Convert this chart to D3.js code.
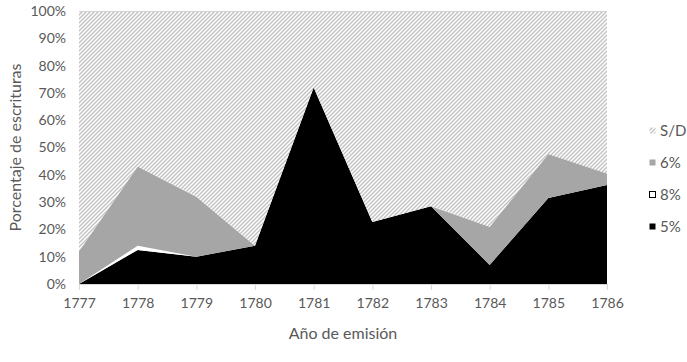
<!DOCTYPE html>
<html>
<head>
<meta charset="utf-8">
<script src="https://cdn.jsdelivr.net/npm/d3@7"></script>
<style>
  body { margin: 0; background: #fff; }
  text { font-family: Lato, "Open Sans", sans-serif; fill: #595959; }
</style>
</head>
<body>
<div id="chart"></div>
<script>
// data (percent of deeds per year)
var years = [1777, 1778, 1779, 1780, 1781, 1782, 1783, 1784, 1785, 1786];
var s5 = [0, 12.5, 10, 14, 72, 22.7, 28.5, 7, 31.5, 36.3];
var s8 = [0, 1.5, 0, 0, 0, 0, 0, 0, 0, 0];
var s6 = [12, 29, 22, 0, 0, 0, 0, 14, 16.1, 4.2];
var yTicks = [0, 10, 20, 30, 40, 50, 60, 70, 80, 90, 100];
var keys = ["5%", "8%", "6%", "S/D"];
var legendOrder = ["S/D", "6%", "8%", "5%"];

var rows = years.map(function(y, i) {
    return {year: y, "5%": s5[i], "8%": s8[i], "6%": s6[i],
        "S/D": 100 - s5[i] - s8[i] - s6[i]};
});

var width = 687, height = 362;
var margin = {top: 11, right: 80, bottom: 78, left: 79};
var w = width - margin.left - margin.right;
var h = height - margin.top - margin.bottom;

var svg = d3.select("#chart").append("svg")
    .attr("width", width)
    .attr("height", height);

// hatch for S/D
var defs = svg.append("defs");
defs.append("pattern")
    .attr("id", "hatch")
    .attr("patternUnits", "userSpaceOnUse")
    .attr("width", 4)
    .attr("height", 4)
    .call(function(p) {
        p.append("rect").attr("width", 4).attr("height", 4).attr("fill", "#fff");
        p.append("path")
            .attr("d", "M-1,1 l2,-2 M0,4 l4,-4 M3,5 l2,-2")
            .attr("stroke", "#c2c2c2")
            .attr("stroke-width", 1.4);
    });

var fills = {"5%": "#000", "8%": "#fff", "6%": "#a6a6a6", "S/D": "url(#hatch)"};

var g = svg.append("g")
    .attr("transform", "translate(" + margin.left + "," + margin.top + ")");

var x = d3.scaleLinear().domain([1777, 1786]).range([0, w]);
var y = d3.scaleLinear().domain([0, 100]).range([h, 0]);

var stack = d3.stack().keys(keys);
var series = stack(rows);

var area = d3.area()
    .x(function(d) { return x(d.data.year); })
    .y0(function(d) { return y(d[0]); })
    .y1(function(d) { return y(d[1]); })
    .curve(d3.curveLinear);

g.selectAll(".layer")
    .data(series)
    .enter().append("path")
    .attr("class", "layer")
    .attr("d", area)
    .attr("fill", function(d) { return fills[d.key]; });

g.append("line")
    .attr("x1", 0).attr("x2", w)
    .attr("y1", y(100) + 0.5).attr("y2", y(100) + 0.5)
    .attr("stroke", "#d4d4d4");

// x axis
var xAxis = d3.axisBottom(x)
    .tickValues(years)
    .tickFormat(d3.format("d"))
    .tickSize(6)
    .tickPadding(8);

var xg = g.append("g")
    .attr("transform", "translate(0," + h + ")")
    .call(xAxis);
xg.select(".domain").attr("stroke", "#d9d9d9");
xg.selectAll(".tick line").attr("stroke", "#d9d9d9");
xg.selectAll(".tick text").attr("font-size", 14).attr("fill", "#595959");

// y axis
var yAxis = d3.axisLeft(y)
    .tickValues(yTicks)
    .tickFormat(function(d) { return d + "%"; })
    .tickSize(0)
    .tickPadding(13);

var yg = g.append("g").call(yAxis);
yg.select(".domain").remove();
yg.selectAll(".tick text").attr("font-size", 14).attr("fill", "#595959");

// axis titles
svg.append("text")
    .attr("transform", "translate(21," + (margin.top + h / 2) + ") rotate(-90)")
    .attr("text-anchor", "middle")
    .attr("font-size", 16)
    .text("Porcentaje de escrituras");

svg.append("text")
    .attr("x", margin.left + w / 2)
    .attr("y", 339)
    .attr("text-anchor", "middle")
    .attr("font-size", 16)
    .text("Año de emisión");

// legend
var legend = svg.selectAll(".legend")
    .data(legendOrder)
    .enter().append("g")
    .attr("class", "legend")
    .attr("transform", function(d, i) { return "translate(649," + (131 + i * 32) + ")"; });

legend.append("rect")
    .attr("x", 0.5).attr("y", -3.5)
    .attr("width", 6).attr("height", 6)
    .attr("fill", function(d) { return fills[d]; })
    .attr("stroke", function(d) { return d == "8%" ? "#000" : "none"; });

legend.append("text")
    .attr("x", 11)
    .attr("y", 5)
    .attr("font-size", 15)
    .text(function(d) { return d; });
</script>
</body>
</html>
